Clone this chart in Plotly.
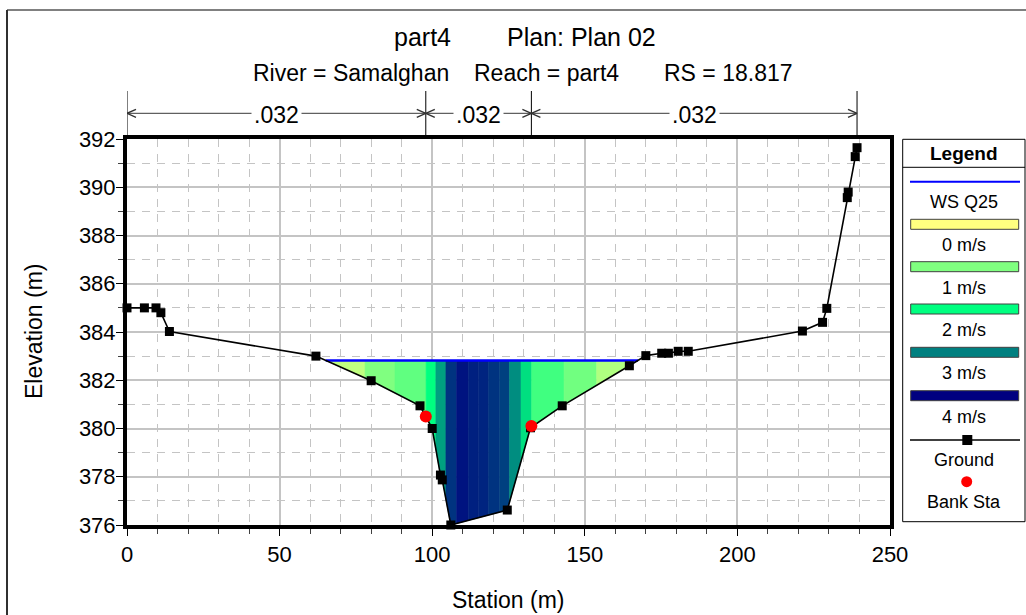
import plotly.graph_objects as go
import numpy as np

# ---------------- data ----------------
station = [0.0, 5.7, 9.5, 11.1, 13.9, 61.9, 80.0, 96.0, 100.0, 102.7, 103.3, 106.1,
           124.6, 132.2, 142.6, 164.6, 170.0, 175.2, 177.4, 180.6, 183.9, 221.3,
           227.9, 229.3, 236.0, 236.3, 238.6, 239.2]
elevation = [385.0, 385.0, 385.0, 384.8, 384.02, 383.0, 381.98, 380.94, 380.0, 378.07,
             377.87, 376.0, 376.62, 380.03, 380.94, 382.6, 383.02, 383.12, 383.12,
             383.2, 383.2, 384.04, 384.4, 384.98, 389.57, 389.8, 391.27, 391.64]
bank_sta = [97.9, 132.5]
bank_elev = [380.5, 380.1]
ws_elev = 382.82
# velocity distribution strips (interior boundaries) and velocities (m/s)
vel_bounds = [78.0, 87.8, 98.0, 101.2, 104.5, 108.0, 111.8, 115.1, 118.4, 122.0,
              125.3, 129.1, 132.6, 143.2, 153.9]
vel_values = [0.5, 1.0, 1.25, 2.0, 2.75, 3.6, 3.85, 3.75, 3.72, 3.6, 3.5, 2.9,
              2.25, 1.5, 1.12, 0.62]
legend_vel = [0, 1, 2, 3, 4]
legend_labels = ["0 m/s", "1 m/s", "2 m/s", "3 m/s", "4 m/s"]
legend_colors = ["#ffff80", "#80ff80", "#00ff80", "#008080", "#000080"]
mann_n = [".032", ".032", ".032"]
x_ticks = [0, 50, 100, 150, 200, 250]
y_ticks = [376, 378, 380, 382, 384, 386, 388, 390, 392]

# ---------------- geometry helpers ----------------
W, H = 1026, 615
PL, PR, PT, PB = 127, 890, 139, 525
FONT = "Liberation Sans, Arial, sans-serif"


def xp(px):
    return (px - PL) / (PR - PL)


def yp(py):
    return (PB - py) / (PB - PT)


st = np.array(station)
el = np.array(elevation)
imin = int(np.argmin(el))
i = imin
while el[i] < ws_elev:
    i -= 1
xl = st[i] + (ws_elev - el[i]) * (st[i + 1] - st[i]) / (el[i + 1] - el[i])
j = imin
while el[j] < ws_elev:
    j += 1
xr = st[j - 1] + (ws_elev - el[j - 1]) * (st[j] - st[j - 1]) / (el[j] - el[j - 1])

rgb_stops = [tuple(int(c[k:k + 2], 16) for k in (1, 3, 5)) for c in legend_colors]


def vcolor(v):
    r = np.interp(v, legend_vel, [c[0] for c in rgb_stops])
    g = np.interp(v, legend_vel, [c[1] for c in rgb_stops])
    b = np.interp(v, legend_vel, [c[2] for c in rgb_stops])
    return "rgb(%d,%d,%d)" % (round(r), round(g), round(b))


fig = go.Figure()

bounds = [xl] + vel_bounds + [xr]
for k, v in enumerate(vel_values):
    xa, xb = bounds[k], bounds[k + 1]
    inner = [(s, e) for s, e in zip(station, elevation) if xa < s < xb]
    gx = [xa] + [s for s, _ in inner] + [xb]
    gy = [float(np.interp(xa, st, el))] + [e for _, e in inner] + [float(np.interp(xb, st, el))]
    polx = [xa, xb] + gx[::-1] + [xa]
    poly = [ws_elev, ws_elev] + gy[::-1] + [ws_elev]
    c = vcolor(v)
    fig.add_trace(go.Scatter(x=polx, y=poly, mode="lines", fill="toself", fillcolor=c,
                             line=dict(color=c, width=0.6), hoverinfo="skip",
                             showlegend=False))

fig.add_trace(go.Scatter(x=[xl, xr], y=[ws_elev, ws_elev], mode="lines",
                         line=dict(color="#0000ff", width=2.5), showlegend=False))
fig.add_trace(go.Scatter(x=station, y=elevation, mode="lines+markers",
                         line=dict(color="black", width=1.6),
                         marker=dict(symbol="square", size=9, color="black"),
                         cliponaxis=False, showlegend=False))
fig.add_trace(go.Scatter(x=bank_sta, y=bank_elev, mode="markers",
                         marker=dict(symbol="circle", size=12, color="#ff0000"),
                         cliponaxis=False, showlegend=False))

shapes = []
annotations = []


def label(x, y, text, size=20, xref="paper", angle=0):
    annotations.append(dict(x=x, y=y, xref=xref, yref="paper", text=text,
                            xanchor="center", yanchor="middle", textangle=angle,
                            showarrow=False,
                            font=dict(size=size, color="black", family=FONT)))


# outer frame
shapes.append(dict(type="line", xref="paper", yref="paper", x0=xp(7), x1=xp(1030),
                   y0=yp(10), y1=yp(10), line=dict(color="#808080", width=2)))
shapes.append(dict(type="line", xref="paper", yref="paper", x0=xp(7), x1=xp(7),
                   y0=yp(10), y1=yp(620), line=dict(color="#303030", width=2)))

# Manning's n dimension lines
n_bounds = [station[0], bank_sta[0], bank_sta[1], station[-1]]
y_arrow = yp(113.3)
for xb in n_bounds:
    shapes.append(dict(type="line", xref="x", yref="paper", x0=xb, x1=xb,
                       y0=yp(91), y1=1.0, line=dict(color="black", width=1)))
for k in range(3):
    xa, xb = n_bounds[k], n_bounds[k + 1]
    shapes.append(dict(type="line", xref="x", yref="paper", x0=xa, x1=xb,
                       y0=y_arrow, y1=y_arrow, line=dict(color="#606060", width=1.3)))
    for xe, sgn in ((xa, 1), (xb, -1)):
        for dy in (4, -4):
            shapes.append(dict(type="line", xref="x", yref="paper",
                               xsizemode="pixel", xanchor=xe, x0=0, x1=sgn * 9,
                               ysizemode="pixel", yanchor=y_arrow, y0=0, y1=dy,
                               line=dict(color="#303030", width=1.3)))
    annotations.append(dict(x=(xa + xb) / 2, y=yp(115), xref="x", yref="paper",
                            xanchor="center", yanchor="middle",
                            text=mann_n[k], showarrow=False, bgcolor="white",
                            borderpad=2, font=dict(size=23, color="black", family=FONT)))

# titles
label(xp(422), yp(37), "part4", 25)
label(xp(581), yp(37), "Plan: Plan 02", 25)
label(xp(351), yp(73), "River = Samalghan", 23)
label(xp(546), yp(73), "Reach = part4", 23)
label(xp(728), yp(73), "RS = 18.817", 23)

# axis titles
label(xp(34), yp(332), "Elevation (m)", 23, angle=-90)
label(xp(508), yp(600), "Station (m)", 23)

# custom legend
LX0, LX1 = 902.7, 1025
LC = (LX0 + LX1) / 2
shapes.append(dict(type="rect", xref="paper", yref="paper", x0=xp(LX0), x1=xp(LX1),
                   y0=yp(139.3), y1=yp(521.7), line=dict(color="black", width=1),
                   fillcolor="white"))
shapes.append(dict(type="line", xref="paper", yref="paper", x0=xp(LX0), x1=xp(LX1),
                   y0=yp(167.3), y1=yp(167.3), line=dict(color="black", width=1)))
label(xp(LC), yp(153), "<b>Legend</b>", 19)
shapes.append(dict(type="line", xref="paper", yref="paper", x0=xp(910), x1=xp(1020),
                   y0=yp(181.7), y1=yp(181.7), line=dict(color="#0000ff", width=2)))
label(xp(LC), yp(202), "WS Q25", 18)
rect_tops = [219.3, 261.7, 304.0, 347.3, 390.7]
for k in range(5):
    shapes.append(dict(type="rect", xref="paper", yref="paper", x0=xp(910.7), x1=xp(1018.7),
                       y0=yp(rect_tops[k]), y1=yp(rect_tops[k] + 10),
                       fillcolor=legend_colors[k], line=dict(color="#404040", width=1)))
    label(xp(LC), yp(rect_tops[k] + 26), legend_labels[k], 18)
shapes.append(dict(type="line", xref="paper", yref="paper", x0=xp(910), x1=xp(1020),
                   y0=yp(440), y1=yp(440), line=dict(color="black", width=1.5)))
shapes.append(dict(type="rect", xref="paper", yref="paper", xsizemode="pixel",
                   ysizemode="pixel", xanchor=xp(967.3), yanchor=yp(440),
                   x0=-5, x1=5, y0=-5, y1=5, fillcolor="black", line=dict(width=0)))
label(xp(LC), yp(460), "Ground", 18)
shapes.append(dict(type="circle", xref="paper", yref="paper", xsizemode="pixel",
                   ysizemode="pixel", xanchor=xp(966.7), yanchor=yp(481.7),
                   x0=-5.5, x1=5.5, y0=-5.5, y1=5.5, fillcolor="#ff0000", line=dict(width=0)))
label(xp(LC), yp(502), "Bank Sta", 18)

grid_c = "#c4c4c4"
fig.update_layout(
    width=W, height=H,
    margin=dict(l=PL, r=W - PR, t=PT, b=H - PB, pad=0),
    paper_bgcolor="white", plot_bgcolor="white",
    showlegend=False,
    shapes=shapes, annotations=annotations,
    font=dict(family=FONT, color="black", size=22),
    xaxis=dict(range=[0, 250], tickvals=x_ticks, ticktext=[str(v) for v in x_ticks],
               showgrid=True, gridcolor=grid_c, gridwidth=1.5, zeroline=False,
               showline=True, linecolor="black", linewidth=4, mirror=True,
               ticks="outside", ticklen=7, tickcolor="black", tickwidth=1,
               tickfont=dict(size=22, family=FONT, color="black"),
               minor=dict(dtick=10, tick0=0, showgrid=True, gridcolor=grid_c,
                          griddash="8px,7px", gridwidth=1.2, ticks="outside",
                          ticklen=5, tickcolor="#404040")),
    yaxis=dict(range=[376, 392], tickvals=y_ticks, ticktext=[str(v) for v in y_ticks],
               showgrid=True, gridcolor=grid_c, gridwidth=1.5, zeroline=False,
               showline=True, linecolor="black", linewidth=4, mirror=True,
               ticks="outside", ticklen=7, tickcolor="black", tickwidth=1,
               ticklabelstandoff=-4,
               tickfont=dict(size=22, family=FONT, color="black"),
               minor=dict(dtick=1, tick0=376, showgrid=True, gridcolor=grid_c,
                          griddash="8px,7px", gridwidth=1.2, ticks="outside",
                          ticklen=5, tickcolor="#404040")),
)

fig.write_html("out.html", config={"displayModeBar": False},
               post_script="document.body.style.margin='0';document.body.style.overflow='hidden';")
